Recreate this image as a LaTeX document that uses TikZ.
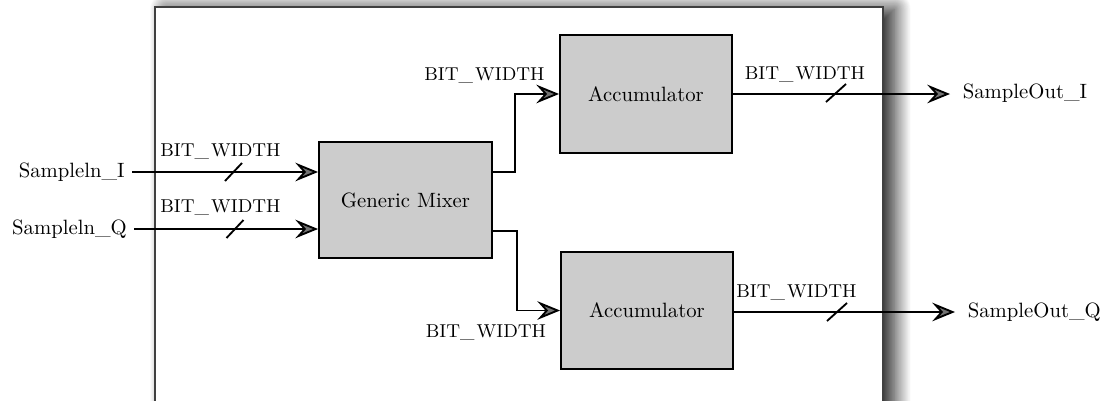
\documentclass[tikz,border=0pt]{standalone}
\usetikzlibrary{arrows.meta,shadows.blur}
% one drawing unit
\def\pu{0.483pt}
\begin{document}
\begin{tikzpicture}[x=\pu,y=-\pu,
  blk/.style={draw=black, fill=black!20, line width=0.9pt, inner sep=0pt},
  wire/.style={line width=0.9pt},
  sig/.style={wire,-{Stealth[length=11pt,width=9pt,inset=4pt]}},
  bw/.style={anchor=base, inner sep=0pt, font=\small},
  frame/.style={draw=black!75, fill=white, line width=1pt,
    blur shadow={shadow xshift=5.5pt, shadow yshift=-1pt, shadow blur radius=8pt,
      shadow blur steps=30, shadow opacity=90}}]
\useasboundingbox (0,0) rectangle (1111,400);

% enclosing module
\draw[frame] (155,7) rectangle (883,430);

% blocks
\node[blk, minimum width=173*\pu, minimum height=116*\pu] (mix) at (405.5,200) {Generic Mixer};
\node[blk, minimum width=172*\pu, minimum height=118*\pu] (acc1) at (646,94) {Accumulator};
\node[blk, minimum width=172*\pu, minimum height=117*\pu] (acc2) at (647,310.5) {Accumulator};

% ports
\node[anchor=east] (iI) at (132,172) {Sampleln\_I};
\node[anchor=east] (iQ) at (134,229) {Sampleln\_Q};
\node[anchor=west, inner xsep=6pt] (oI) at (950,93) {SampleOut\_I};
\node[anchor=west, inner xsep=6pt] (oQ) at (955,312) {SampleOut\_Q};

% connections
\draw[sig] (iI.east) -- (iI.east -| mix.west);
\draw[sig] (iQ.east) -- (iQ.east -| mix.west);
\draw[sig] (mix.east |- iI.east) -- ++(22,0) |- (acc1.west);
\draw[sig] (mix.east |- 0,231) -- ++(24,0) |- (acc2.west);
\draw[sig] (acc1.east) -- (acc1.east -| oI.west);
\draw[sig] (acc2.east |- oQ.west) -- (oQ.west);

% bus width marks
\draw[wire] (233.5,172) ++(-8.5,9) -- ++(17,-18);
\draw[wire] (235,229) ++(-8.5,9) -- ++(17,-18);
\draw[wire] (836,93) ++(-10,9) -- ++(20,-18);
\draw[wire] (837,312) ++(-10,9) -- ++(20,-18);

% bus width labels
\node[bw] (lI) at (220.5,156) {BIT\_\kern1pt WIDTH};
\node[bw] (lQ) at (220.5,212) {BIT\_\kern1pt WIDTH};
\node[bw] (la1) at (484.5,80) {BIT\_\kern1pt WIDTH};
\node[bw] (la2) at (486,337) {BIT\_\kern1pt WIDTH};
\node[bw] (lo1) at (805,79) {BIT\_\kern1pt WIDTH};
\node[bw] (lo2) at (796.5,297) {BIT\_\kern1pt WIDTH};
\end{tikzpicture}
\end{document}
